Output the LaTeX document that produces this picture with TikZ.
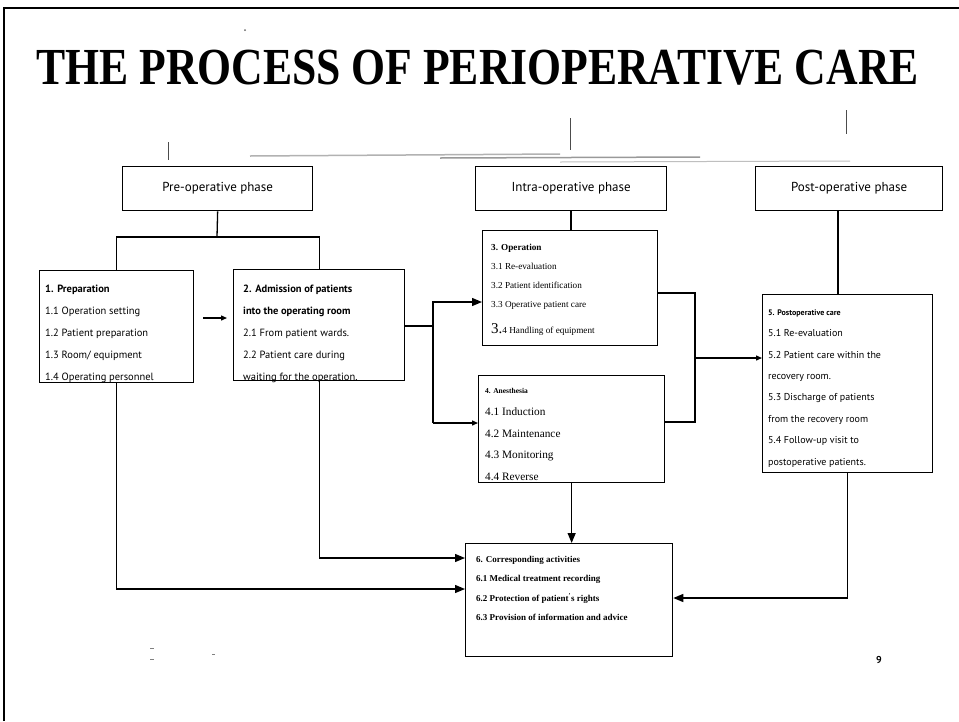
\documentclass[tikz,border=0pt]{standalone}
\usepackage{fontspec}
\setmainfont{Liberation Serif}
\newfontfamily\gill{PT Sans}
\usetikzlibrary{arrows.meta}
\begin{document}
\begin{tikzpicture}[x=1pt,y=-1pt,
  box/.style={draw, line width=1.3pt, inner sep=0pt, anchor=north west},
  phase/.style={box, font=\gill\fontsize{13}{15}\selectfont},
  txt/.style={inner sep=0pt, anchor=north west, align=left},
  conn/.style={line width=1.3pt},
  arr/.style={conn, -{Triangle[length=10pt,width=8pt]}},
  arrs/.style={conn, -{Triangle[length=6pt,width=5pt]}},
  tick/.style={line width=0.9pt, black!70},
  smudge/.style={line width=1.5pt, black!30}
]
\useasboundingbox (0,0) rectangle (959,721);
\fill[white] (0,0) rectangle (959,721);
% slide frame
\draw[line width=1.5pt] (4,721) -- (4,8) -- (959,8);
% title
\node[inner sep=0pt, anchor=base west, xscale=0.84, font=\bfseries\fontsize{52}{56}\selectfont] (title) at (36,84) {THE PROCESS OF PERIOPERATIVE CARE};
% scan marks
\draw[tick] (168,142) -- (168,160);
\draw[tick] (570,118) -- (570,150);
\draw[tick] (846,110) -- (846,134);
\draw[smudge] (250,156) -- (560,154);
\draw[smudge, black!40] (440,158) -- (700,157);
\draw[smudge, black!25, line width=1pt] (560,162) -- (850,161);
\draw[black!50, line width=0.8pt] (150,648) -- (154,648) (150,659) -- (154,659) (212,654) -- (215,654);
\fill[black!60] (245,30) circle (1pt);
% phase boxes
\node[phase, minimum width=190pt, minimum height=44pt] (pre) at (122,166) {Pre-operative phase};
\node[phase, minimum width=191pt, minimum height=44pt] (intra) at (475,166) {Intra-operative phase};
\node[phase, minimum width=187pt, minimum height=44pt] (post) at (755,166) {Post-operative phase};
% content boxes
\node[box, minimum width=154pt, minimum height=112pt] (b1) at (39,270) {};
\node[txt, font=\gill\fontsize{10.5}{22.2}\selectfont] (t1) at (45,284.5) {%
  {\bfseries 1. Preparation}\\
  1.1 Operation setting\\
  1.2 Patient preparation\\
  1.3 Room/ equipment\\
  1.4 Operating personnel};
\node[box, minimum width=171pt, minimum height=111pt] (b2) at (233,269) {};
\node[txt, font=\gill\bfseries\fontsize{10.5}{22}\selectfont] (t2) at (243,284.5) {%
  2. Admission of patients\\
  into the operating room\\
  {\mdseries 2.1 From patient wards.}\\
  {\mdseries 2.2 Patient care during}\\
  {\mdseries waiting for the operation.}};
\node[box, minimum width=175pt, minimum height=115pt] (b3) at (482,230) {};
\node[txt, font=\fontsize{9.2}{19}\selectfont] (t3) at (491,244) {%
  {\bfseries 3. Operation}\\
  3.1 Re-evaluation\\
  3.2 Patient identification\\
  3.3 Operative patient care\\[7pt]
  {\fontsize{15}{19}\selectfont 3.}4 Handling of equipment};
\node[box, minimum width=186pt, minimum height=107pt] (b4) at (478,375) {};
\node[txt, font=\fontsize{11.3}{21.8}\selectfont] (t4) at (485,388) {%
  {\bfseries\fontsize{7.5}{21.8}\selectfont 4. Anesthesia}\\
  4.1 Induction\\
  4.2 Maintenance\\
  4.3 Monitoring\\
  4.4 Reverse};
\node[box, minimum width=170pt, minimum height=178pt] (b5) at (762,294) {};
\node[txt, font=\gill\fontsize{10}{21.4}\selectfont] (t5) at (768,309.5) {%
  {\bfseries\fontsize{8}{21.4}\selectfont 5. Postoperative care}\\
  5.1 Re-evaluation\\
  5.2 Patient care within the\\
  recovery room.\\
  5.3 Discharge of patients\\
  from the recovery room\\
  5.4 Follow-up visit to\\
  postoperative patients.};
\node[box, minimum width=207pt, minimum height=113pt] (b6) at (465,543) {};
\node[txt, font=\bfseries\fontsize{9}{19.3}\selectfont] (t6) at (476,556) {%
  6. Corresponding activities\\
  6.1 Medical treatment recording\\
  6.2 Protection of patient\textsuperscript{'}s rights\\
  6.3 Provision of information and advice};
% page number
\node[inner sep=0pt, font=\gill\bfseries\fontsize{10}{12}\selectfont] (pg) at (879,660) {9};
% tree under the phases
\coordinate (bus) at (217,237);
\coordinate (idrop) at (571,0);
\coordinate (pdrop) at (838,0);
\draw[conn] (pre.south) -- (bus);
\draw[conn] (b1.north) |- (bus) -| (b2.north);
\draw[conn] (intra.south -| idrop) -- (b3.north -| idrop);
\draw[conn] (post.south -| pdrop) -- (b5.north -| pdrop);
% 1 -> 2
\coordinate (a12) at (210,318);
\draw[arrs, shorten <=9pt, shorten >=6pt] (b1.east |- a12) -- (b2.west |- a12);
% 2 -> 3, 4
\coordinate (j1) at (433,326);
\coordinate (j3) at (433,302);
\coordinate (j4) at (433,423);
\draw[conn] (j1 -| b2.east) -- (j1);
\draw[arr] (j4) -- (j3) -- (j3 -| b3.west);
\draw[arrs] (j4) -- (j4 -| b4.west);
% 3, 4 -> 5
\coordinate (k3) at (695,293);
\coordinate (k4) at (695,422);
\coordinate (k5) at (695,358);
\draw[conn] (k3 -| b3.east) -- (k3) -- (k4) -- (k4 -| b4.east);
\draw[arrs] (k5) -- (k5 -| b5.west);
% to 6
\coordinate (c2) at (315,558);
\coordinate (c1) at (119,589);
\coordinate (c5) at (848,598);
\draw[arr] (b2.south) |- (b6.west |- c2);
\draw[arr] (b1.south) |- (b6.west |- c1);
\draw[arr] (b4.south) -- (b4.south |- b6.north);
\draw[arr] (b5.south) |- (b6.east |- c5);
\end{tikzpicture}
\end{document}
